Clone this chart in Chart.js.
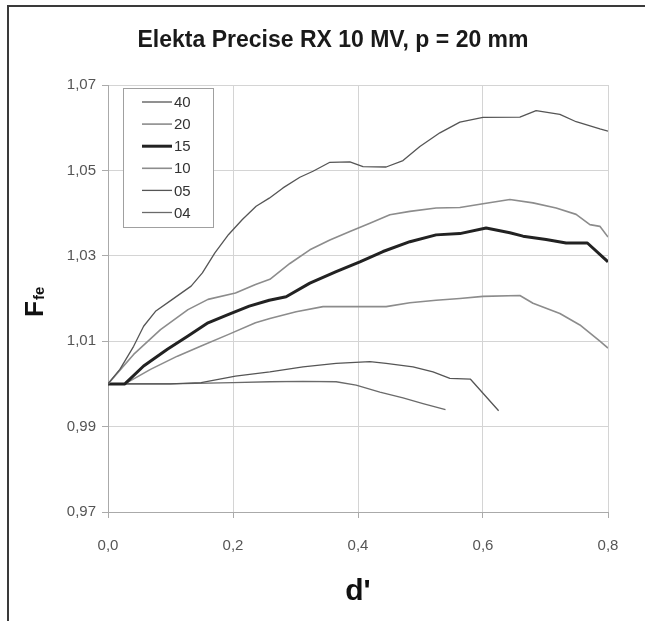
<!DOCTYPE html>
<html>
<head>
<meta charset="utf-8">
<script src="https://cdn.jsdelivr.net/npm/chart.js@4.4.0/dist/chart.umd.min.js"></script>
<style>
html,body{margin:0;padding:0;background:#fff;}
#wrap{position:relative;width:645px;height:621px;overflow:hidden;background:#fff;}
#frame{position:absolute;left:7px;top:5px;right:-10px;bottom:-10px;border-left:2px solid #3a3a3a;border-top:2px solid #3a3a3a;pointer-events:none;}
canvas{position:absolute;left:0;top:0;}
</style>
</head>
<body>
<div id="wrap"><canvas id="chart" width="645" height="621"></canvas><div id="frame"></div></div>
<script>
// tick values
const xTicks = [0, 0.2, 0.4, 0.6, 0.8];
const yTicks = [0.97, 0.99, 1.01, 1.03, 1.05, 1.07];

// series names (legend order)
const names = ['40', '20', '15', '10', '05', '04'];

// values
const x40 = [0, 0.019, 0.041, 0.057, 0.076, 0.103, 0.133, 0.151, 0.171, 0.193, 0.215, 0.237, 0.258, 0.28, 0.307, 0.328, 0.355, 0.387, 0.408, 0.445, 0.472, 0.499, 0.531, 0.563, 0.6, 0.659, 0.685, 0.723, 0.749, 0.787, 0.8];
const y40 = [1.000, 1.0034, 1.0088, 1.0135, 1.017, 1.0198, 1.0229, 1.026, 1.0307, 1.035, 1.0385, 1.0416, 1.0435, 1.0459, 1.0484, 1.0498, 1.0519, 1.052, 1.0509, 1.0508, 1.0523, 1.0556, 1.0588, 1.0613, 1.0624, 1.0625, 1.064, 1.0631, 1.0614, 1.0597, 1.0592];

const x20 = [0, 0.016, 0.041, 0.084, 0.128, 0.16, 0.204, 0.236, 0.259, 0.291, 0.323, 0.355, 0.387, 0.419, 0.451, 0.483, 0.525, 0.563, 0.6, 0.643, 0.68, 0.717, 0.749, 0.771, 0.787, 0.8];
const y20 = [1.000, 1.0027, 1.0069, 1.0127, 1.0174, 1.0198, 1.0213, 1.0233, 1.0245, 1.0282, 1.0314, 1.0337, 1.0357, 1.0376, 1.0396, 1.0404, 1.0412, 1.0413, 1.0422, 1.0432, 1.0424, 1.0412, 1.0397, 1.0373, 1.0369, 1.0344];

const x15 = [0, 0.027, 0.057, 0.095, 0.128, 0.16, 0.193, 0.226, 0.258, 0.285, 0.323, 0.365, 0.403, 0.44, 0.483, 0.525, 0.563, 0.605, 0.643, 0.664, 0.701, 0.733, 0.767, 0.8];
const y15 = [1.000, 1.000, 1.0042, 1.0081, 1.0112, 1.0143, 1.0163, 1.0182, 1.0196, 1.0204, 1.0236, 1.0263, 1.0286, 1.031, 1.0333, 1.0349, 1.0352, 1.0365, 1.0354, 1.0346, 1.0338, 1.033, 1.033, 1.0286];

const x10 = [0, 0.027, 0.068, 0.111, 0.149, 0.193, 0.236, 0.259, 0.301, 0.344, 0.403, 0.445, 0.483, 0.525, 0.563, 0.6, 0.659, 0.68, 0.723, 0.755, 0.787, 0.8];
const y10 = [1.000, 1.000, 1.0034, 1.0065, 1.0089, 1.0116, 1.0143, 1.0153, 1.0169, 1.0181, 1.0181, 1.0181, 1.019, 1.0196, 1.02, 1.0205, 1.0207, 1.0189, 1.0165, 1.0138, 1.01, 1.0084];

const x05 = [0, 0.1, 0.149, 0.204, 0.259, 0.312, 0.365, 0.419, 0.445, 0.488, 0.52, 0.547, 0.58, 0.625];
const y05 = [1.000, 1.000, 1.0003, 1.0018, 1.0028, 1.004, 1.0048, 1.0052, 1.0048, 1.004, 1.0028, 1.0013, 1.0011, 0.9937];

const x04 = [0, 0.1, 0.2, 0.259, 0.312, 0.365, 0.397, 0.435, 0.472, 0.504, 0.54];
const y04 = [1.000, 1.000, 1.0003, 1.0005, 1.0006, 1.0005, 0.9997, 0.9981, 0.9967, 0.9954, 0.994];

const xs = [x40, x20, x15, x10, x05, x04];
const ys = [y40, y20, y15, y10, y05, y04];
const colors = ['#555', '#8c8c8c', '#222', '#8c8c8c', '#555', '#6a6a6a'];
const widths = [1.3, 1.6, 3, 1.6, 1.3, 1.3];

const FONT = '"Liberation Sans", Arial, sans-serif';
const comma = (v, d) => Number(v).toFixed(d).replace('.', ',');

// legend box inside the plot, top left
const boxLegend = {
  id: 'boxLegend',
  afterDatasetsDraw(chart) {
    const {ctx, chartArea} = chart;
    const x0 = chartArea.left + 15, y0 = chartArea.top + 3, w = 90, h = 139;
    ctx.save();
    ctx.fillStyle = '#fff';
    ctx.fillRect(x0, y0, w, h);
    ctx.strokeStyle = '#a0a0a0';
    ctx.lineWidth = 1;
    ctx.strokeRect(x0 + 0.5, y0 + 0.5, w, h);
    ctx.font = '15px ' + FONT;
    ctx.textBaseline = 'middle';
    chart.data.datasets.forEach((ds, i) => {
      const y = y0 + 14 + i * 22.1;
      ctx.strokeStyle = ds.borderColor;
      ctx.lineWidth = ds.borderWidth;
      ctx.beginPath();
      ctx.moveTo(x0 + 19, y);
      ctx.lineTo(x0 + 49, y);
      ctx.stroke();
      ctx.fillStyle = '#333';
      ctx.fillText(ds.label, x0 + 51, y + 1);
    });
    ctx.restore();
  }
};

// rotated y title F with subscript fe
const yTitle = {
  id: 'yTitle',
  afterDraw(chart) {
    const ctx = chart.ctx;
    ctx.save();
    ctx.translate(43, 317);
    ctx.rotate(-Math.PI / 2);
    ctx.fillStyle = '#111';
    ctx.textBaseline = 'alphabetic';
    ctx.font = 'bold 26px ' + FONT;
    ctx.fillText('F', 0, 0);
    const w = ctx.measureText('F').width;
    ctx.font = 'bold 15px ' + FONT;
    ctx.fillText('fe', w + 1, 1);
    ctx.restore();
  }
};

new Chart(document.getElementById('chart'), {
  type: 'line',
  data: {
    datasets: names.map((n, i) => ({
      label: n,
      data: xs[i].map((x, j) => ({x: x, y: ys[i][j]})),
      borderColor: colors[i],
      borderWidth: widths[i],
      pointRadius: 0,
      tension: 0,
      fill: false,
      borderJoinStyle: 'round'
    }))
  },
  options: {
    responsive: false,
    animation: false,
    events: [],
    layout: {padding: {left: 58, right: 37, top: 0, bottom: 0}},
    plugins: {
      legend: {display: false},
      tooltip: {enabled: false},
      title: {
        display: true,
        text: 'Elekta Precise RX 10 MV, p = 20 mm',
        color: '#1a1a1a',
        font: {family: FONT, size: 23, weight: 'bold'},
        padding: {top: 27, bottom: 30.4}
      }
    },
    scales: {
      x: {
        type: 'linear',
        min: 0, max: 0.8,
        afterBuildTicks: s => { s.ticks = xTicks.map(v => ({value: v})); },
        afterFit: s => { s.height = 109; },
        ticks: {color: '#555', padding: 19, font: {family: FONT, size: 15}, callback: v => comma(v, 1)},
        grid: {color: '#d4d4d4', tickColor: '#aaa', tickLength: 6},
        border: {color: '#aaa'},
        title: {display: true, text: "d'", color: '#111', font: {family: FONT, size: 30, weight: 'bold'}, padding: {top: 0, bottom: 11}}
      },
      y: {
        min: 0.97, max: 1.07,
        afterBuildTicks: s => { s.ticks = yTicks.map(v => ({value: v})); },
        afterFit: s => { s.width = 50; },
        ticks: {color: '#555', padding: 6, font: {family: FONT, size: 15}, callback: v => comma(v, 2)},
        grid: {color: '#d4d4d4', tickColor: '#aaa', tickLength: 6},
        border: {color: '#aaa'}
      }
    }
  },
  plugins: [boxLegend, yTitle]
});
</script>
</body>
</html>
